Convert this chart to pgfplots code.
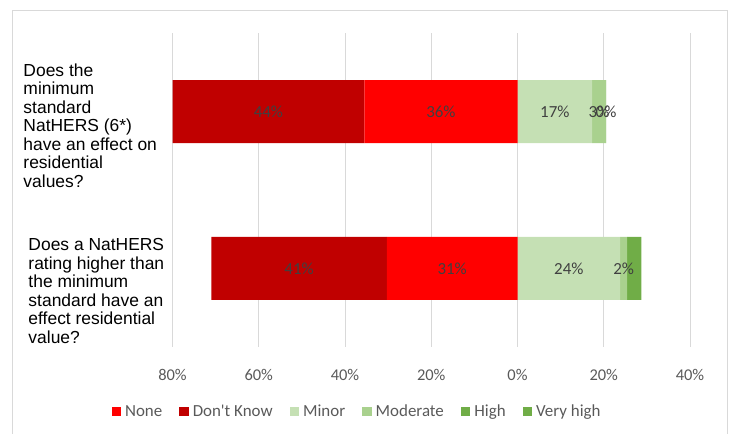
\documentclass[border=0pt]{standalone}
\usepackage{pgfplots}
\pgfplotsset{compat=1.18}
\usepackage{pgfplotstable}
\usepackage{fontspec}
\setmainfont{Carlito}
\newfontfamily\arialf{Liberation Sans}
\definecolor{cNone}{HTML}{FF0000}
\definecolor{cDK}{HTML}{C00000}
\definecolor{cMinor}{HTML}{C5E0B4}
\definecolor{cMod}{HTML}{A9D18E}
\definecolor{cHigh}{HTML}{70AD47}
\definecolor{cVHigh}{HTML}{70AD47}
\definecolor{gridc}{HTML}{D9D9D9}
\definecolor{txtc}{HTML}{595959}
\definecolor{lblc}{HTML}{404040}

\pgfplotstableread{
y x label
1 -35.5 {36\%}
0 -30.3 {31\%}
}\tNone
\pgfplotstableread{
y x label
1 -44.5 {44\%}
0 -40.7 {41\%}
}\tDK
\pgfplotstableread{
y x label
1 17.3 {17\%}
0 23.8 {24\%}
}\tMinor
\pgfplotstableread{
y x label
1 3.2 {3\%}
0 1.6 {2\%}
}\tMod
\pgfplotstableread{
y x label
1 0.05 {0\%}
0 3.3 {}
}\tHigh
\pgfplotstableread{
y x
1 0
0 0
}\tVHigh

\begin{document}
\begin{tikzpicture}[x=1bp,y=1bp]
\path[use as bounding box] (0,0) rectangle (733,434);
\draw[gridc, line width=1bp] (12.5,-5) rectangle (727.7,423);
\begin{axis}[
  at={(172.5bp,87.3bp)}, anchor=south west,
  scale only axis, width=517.5bp, height=313.4bp,
  xbar stacked, bar width=63bp,
  xmin=-80, xmax=40, ymin=-0.5, ymax=1.5,
  enlargelimits=false, clip=false,
  xtick={-80,-60,-40,-20,0,20,40},
  xticklabels={80\%,60\%,40\%,20\%,0\%,20\%,40\%},
  ytick=\empty,
  xmajorgrids, grid style={draw=gridc, line width=1bp},
  axis line style={draw=none}, tick style={draw=none}, major tick length=0pt,
  xticklabel style={font=\fontsize{16.5}{18}\selectfont, text=txtc, anchor=center, yshift=-28.3bp},
  point meta=explicit symbolic,
  legend columns=6,
  legend style={at={(0.3566,-0.2072)}, anchor=center, draw=none, fill=none,
    font=\fontsize{17}{18}\selectfont, text=txtc,
    /tikz/every odd column/.append style={column sep=2bp},
    /tikz/every even column/.append style={column sep=15bp}},
  legend cell align=left,
  every axis plot post/.append style={legend image code/.code={\fill[##1] (0bp,-4.75bp) rectangle (9.5bp,4.75bp);}},
  every node near coord/.append style={anchor=center, font=\fontsize{17}{18}\selectfont, text=lblc},
]
\addplot[fill=cNone, draw=none, nodes near coords] table[x=x, y=y, meta=label] \tNone;
\addlegendentry{None}
\addplot[fill=cDK, draw=none, nodes near coords] table[x=x, y=y, meta=label] \tDK;
\addlegendentry{Don{\addfontfeature{Ligatures=TeXOff}'}t Know}
\addplot[fill=cMinor, draw=none, nodes near coords] table[x=x, y=y, meta=label] \tMinor;
\addlegendentry{Minor}
\addplot[fill=cMod, draw=none, nodes near coords] table[x=x, y=y, meta=label] \tMod;
\addlegendentry{Moderate}
\addplot[fill=cHigh, draw=none, nodes near coords] table[x=x, y=y, meta=label] \tHigh;
\addlegendentry{High}
\addplot[fill=cVHigh, draw=none, point meta=none] table[x=x, y=y] \tVHigh;
\addlegendentry{Very high}
\end{axis}
\node[anchor=north west, inner sep=0pt, align=left, font=\arialf\fontsize{17.5}{18.6}\selectfont]
  at (23.3,{434-63.2}) {Does the\\minimum\\standard\\NatHERS (6*)\\have an effect on\\residential\\values?};
\node[anchor=north west, inner sep=0pt, align=left, font=\arialf\fontsize{17.5}{18.6}\selectfont]
  at (28.3,{434-238.2}) {Does a NatHERS\\rating higher than\\the minimum\\standard have an\\effect residential\\value?};
\end{tikzpicture}
\end{document}
